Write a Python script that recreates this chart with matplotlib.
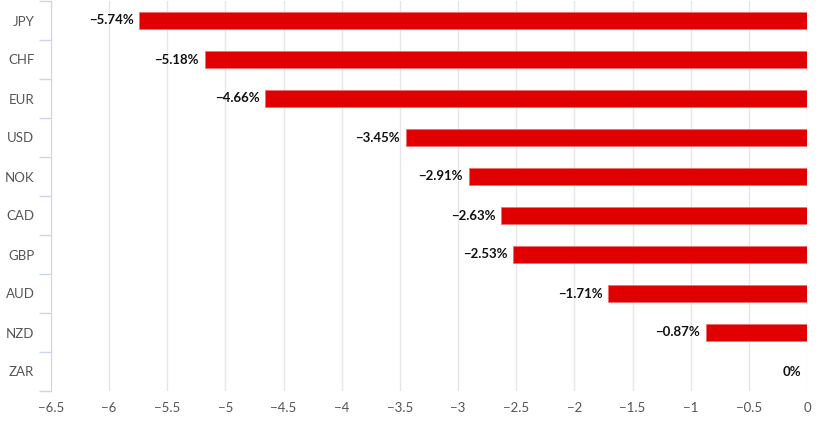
import matplotlib
matplotlib.use("Agg")
import matplotlib.pyplot as plt
from matplotlib.ticker import FuncFormatter, FixedLocator
import numpy as np

plt.rcParams["font.family"] = ["Lato", "DejaVu Sans"]

categories = ["JPY", "CHF", "EUR", "USD", "NOK", "CAD", "GBP", "AUD", "NZD", "ZAR"]
values = [-5.74, -5.18, -4.66, -3.45, -2.91, -2.63, -2.53, -1.71, -0.87, 0.0]
xticks = [-6.5, -6, -5.5, -5, -4.5, -4, -3.5, -3, -2.5, -2, -1.5, -1, -0.5, 0]

fig = plt.figure(figsize=(8.18, 4.34), dpi=100)
ax = fig.add_axes([51/818, 43/434, 756/818, 390/434])

y = np.arange(len(categories))
ax.barh(y, values, height=0.46, color="#e00000", edgecolor="#f07070", linewidth=0.6, zorder=3)
ax.set_ylim(len(categories) - 0.5, -0.5)
ax.set_xlim(-6.5, 0)

ax.set_yticks(y)
ax.set_yticklabels(categories)
ax.yaxis.set_minor_locator(FixedLocator(np.arange(-0.5, len(categories), 1.0)))
ax.tick_params(axis="y", which="major", length=0, pad=12, labelsize=9.5, labelcolor="#555555")
ax.tick_params(axis="y", which="minor", length=9, color="#ccd6eb", width=1)

ax.set_xticks(xticks)
def fmt(v, pos):
    s = ("%g" % abs(v))
    return ("\u2212" + s) if v < 0 else s
ax.xaxis.set_major_formatter(FuncFormatter(fmt))
ax.tick_params(axis="x", length=0, pad=8, labelsize=9.5, labelcolor="#555555")
ax.grid(axis="x", color="#e6e6e6", linewidth=1, zorder=0)

for s in ["top", "right", "bottom"]:
    ax.spines[s].set_visible(False)
ax.spines["left"].set_color("#ccd6eb")

for yi, v in zip(y, values):
    if v == 0:
        lab = "0%"
    else:
        lab = "\u2212%.2f%%" % abs(v)
    ax.annotate(lab, xy=(v, yi), xytext=(-4, 0), textcoords="offset points",
                ha="right", va="center", fontsize=9.5, fontweight="bold", color="#111111", zorder=4)

fig.savefig("out.png", dpi=100)
